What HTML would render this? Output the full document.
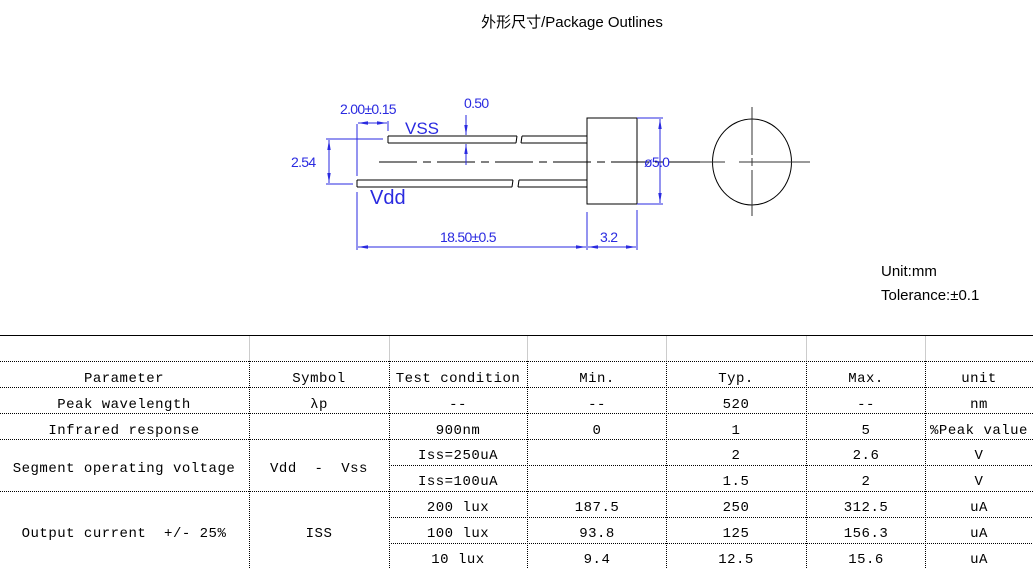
<!DOCTYPE html>
<html><head><meta charset="utf-8"><style>
body{margin:0;background:#fff;width:1033px;height:569px;overflow:hidden}
svg{display:block}
.b{font-family:"Liberation Sans",sans-serif;fill:#2a2ae0;font-size:14px;letter-spacing:-0.7px}
.t{font-family:"Liberation Mono",monospace;font-size:14px;letter-spacing:0.5px;fill:#000}
</style></head><body>
<svg width="1033" height="569" viewBox="0 0 1033 569" xmlns="http://www.w3.org/2000/svg">
<defs>
<marker id="a" viewBox="0 0 10 4" refX="10" refY="2" markerUnits="userSpaceOnUse" markerWidth="10" markerHeight="4" orient="auto-start-reverse"><path d="M0,0.3 L10,2 L0,3.7z" fill="#2a2ae0"/></marker>
</defs>
<text x="572" y="27" text-anchor="middle" style="font-family:'Liberation Sans','Noto Sans CJK SC',sans-serif;font-size:15px">外形尺寸/Package Outlines</text>
<line x1="379" y1="162" x2="700" y2="162" stroke="#000" stroke-width="1" stroke-dasharray="38,6,8,6"/>
<g stroke="#000" stroke-width="1" fill="none">
<path d="M388,136 H517 M388,143 H516 M388,136 V143 M522,136 H587 M521,143 H587 M517,136 L516,143 M522,136 L521,143"/>
<path d="M357,180 H513 M357,187 H512 M357,180 V187 M519,180 H587 M518,187 H587 M513,180 L512,187 M519,180 L518,187"/>
<rect x="587" y="118" width="50" height="86"/>
<ellipse cx="752" cy="162" rx="39.5" ry="43"/>
</g>
<g stroke="#333" stroke-width="1">
<line x1="700" y1="162" x2="725" y2="162"/><line x1="739" y1="162" x2="810" y2="162"/>
<line x1="752" y1="107" x2="752" y2="155"/><line x1="752" y1="158" x2="752" y2="166"/><line x1="752" y1="170" x2="752" y2="216"/>
</g>
<g stroke="#2a2ae0" stroke-width="1" fill="none">
<line x1="357" y1="124" x2="357" y2="176"/><line x1="357" y1="192" x2="357" y2="250"/>
<line x1="388" y1="121" x2="388" y2="131"/>
<line x1="358" y1="123" x2="387" y2="123" marker-start="url(#a)" marker-end="url(#a)"/>
<line x1="329" y1="140" x2="329" y2="183" marker-start="url(#a)" marker-end="url(#a)"/>
<line x1="326" y1="139" x2="383" y2="139"/><line x1="326" y1="184" x2="353" y2="184"/>
<line x1="466" y1="115" x2="466" y2="135" marker-end="url(#a)"/>
<line x1="466" y1="165" x2="466" y2="144" marker-end="url(#a)"/>
<line x1="637" y1="118" x2="663" y2="118"/><line x1="637" y1="204" x2="663" y2="204"/>
<line x1="660" y1="119" x2="660" y2="203" marker-start="url(#a)" marker-end="url(#a)"/>
<line x1="587" y1="212" x2="587" y2="250"/><line x1="637" y1="210" x2="637" y2="250"/>
<line x1="358" y1="247" x2="586" y2="247" marker-start="url(#a)" marker-end="url(#a)"/>
<line x1="588" y1="247" x2="636" y2="247" marker-start="url(#a)" marker-end="url(#a)"/>
</g>
<text class="b" x="340" y="114">2.00±0.15</text>
<text class="b" x="464" y="108">0.50</text>
<text class="b" x="405" y="134" style="font-size:17px;letter-spacing:0">VSS</text>
<text class="b" x="291" y="167">2.54</text>
<text class="b" x="370" y="204" style="font-size:20px;letter-spacing:0">Vdd</text>
<text class="b" x="440" y="242">18.50±0.5</text>
<text class="b" x="600" y="242">3.2</text>
<text class="b" x="644" y="167">ø5.0</text>
<text x="881" y="276" style="font-family:'Liberation Sans',sans-serif;font-size:15px">Unit:mm</text>
<text x="881" y="300" style="font-family:'Liberation Sans','Noto Sans CJK SC',sans-serif;font-size:15px">Tolerance:±0.1</text>
<line x1="0" y1="335.5" x2="1033" y2="335.5" stroke="#000"/>
<g stroke="#ccc"><line x1="249.5" y1="336" x2="249.5" y2="361"/><line x1="389.5" y1="336" x2="389.5" y2="361"/><line x1="527.5" y1="336" x2="527.5" y2="361"/><line x1="666.5" y1="336" x2="666.5" y2="361"/><line x1="806.5" y1="336" x2="806.5" y2="361"/><line x1="925.5" y1="336" x2="925.5" y2="361"/></g>
<g stroke="#000" stroke-dasharray="1,1">
<line x1="0" y1="361.5" x2="1033" y2="361.5"/><line x1="0" y1="387.5" x2="1033" y2="387.5"/><line x1="0" y1="413.5" x2="1033" y2="413.5"/><line x1="0" y1="439.5" x2="1033" y2="439.5"/>
<line x1="389" y1="465.5" x2="1033" y2="465.5"/><line x1="0" y1="491.5" x2="1033" y2="491.5"/><line x1="389" y1="517.5" x2="1033" y2="517.5"/><line x1="389" y1="543.5" x2="1033" y2="543.5"/>
<line x1="249.5" y1="361" x2="249.5" y2="569"/><line x1="389.5" y1="361" x2="389.5" y2="569"/><line x1="527.5" y1="361" x2="527.5" y2="569"/><line x1="666.5" y1="361" x2="666.5" y2="569"/><line x1="806.5" y1="361" x2="806.5" y2="569"/><line x1="925.5" y1="361" x2="925.5" y2="569"/>
</g>
<g class="t" text-anchor="middle">
<text x="124" y="382">Parameter</text><text x="319" y="382">Symbol</text><text x="458" y="382">Test condition</text><text x="597" y="382">Min.</text><text x="736" y="382">Typ.</text><text x="866" y="382">Max.</text><text x="979" y="382">unit</text>
<text x="124" y="408">Peak wavelength</text><text x="319" y="408">λp</text><text x="458" y="408">--</text><text x="597" y="408">--</text><text x="736" y="408">520</text><text x="866" y="408">--</text><text x="979" y="408">nm</text>
<text x="124" y="434">Infrared response</text><text x="458" y="434">900nm</text><text x="597" y="434">0</text><text x="736" y="434">1</text><text x="866" y="434">5</text><text x="979" y="434">%Peak value</text>
<text x="124" y="472">Segment operating voltage</text><text x="319" y="472">Vdd&#160;&#160;-&#160;&#160;Vss</text>
<text x="458" y="459">Iss=250uA</text><text x="736" y="459">2</text><text x="866" y="459">2.6</text><text x="979" y="459">V</text>
<text x="458" y="485">Iss=100uA</text><text x="736" y="485">1.5</text><text x="866" y="485">2</text><text x="979" y="485">V</text>
<text x="124" y="537">Output current&#160;&#160;+/- 25%</text><text x="319" y="537">ISS</text>
<text x="458" y="511">200 lux</text><text x="597" y="511">187.5</text><text x="736" y="511">250</text><text x="866" y="511">312.5</text><text x="979" y="511">uA</text>
<text x="458" y="537">100 lux</text><text x="597" y="537">93.8</text><text x="736" y="537">125</text><text x="866" y="537">156.3</text><text x="979" y="537">uA</text>
<text x="458" y="563">10 lux</text><text x="597" y="563">9.4</text><text x="736" y="563">12.5</text><text x="866" y="563">15.6</text><text x="979" y="563">uA</text>
</g>
</svg>
</body></html>
